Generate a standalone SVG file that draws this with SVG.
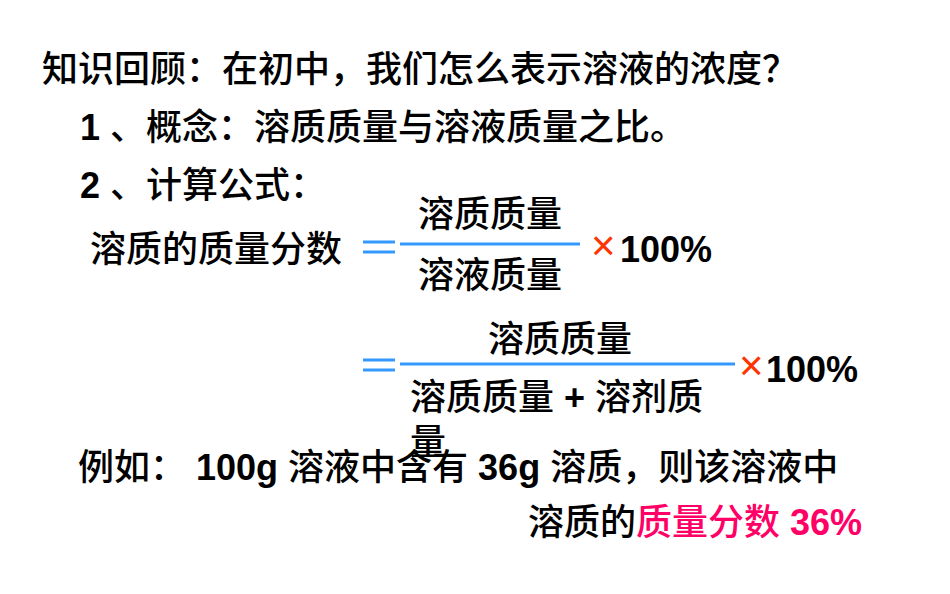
<svg xmlns="http://www.w3.org/2000/svg" width="950" height="594" viewBox="0 0 950 594">
<style>
text{font-family:"Liberation Sans","Noto Sans CJK SC",sans-serif;font-size:36px;fill:#000;font-weight:500}
.b{font-weight:bold}
.blue{fill:none;stroke:#3399ff;stroke-width:3}
.x{fill:#ff3300;font-weight:normal;font-size:42px}
.pk{fill:#ff0066}
</style>
<rect width="950" height="594" fill="#fff"/>
<text x="42" y="82">知识回顾：在初中，我们怎么表示溶液的浓度？</text>
<text x="80" y="140"><tspan class="b">1</tspan> 、概念：溶质质量与溶液质量之比。</text>
<text x="80" y="198"><tspan class="b">2</tspan> 、计算公式：</text>
<g id="formula1">
<text x="90" y="262">溶质的质量分数</text>
<path class="blue" d="M363 242H395M363 252H395M400 244H580"/>
<text x="418" y="227">溶质质量</text>
<text x="418" y="288">溶液质量</text>
<text x="591" y="260" class="x">×</text>
<text x="620" y="262" class="b">100%</text>
</g>
<g id="formula2">
<path class="blue" d="M363 360H395M363 370H395M400 364H735"/>
<text x="488" y="352">溶质质量</text>
<text x="410" y="410">溶质质量 <tspan class="b">+</tspan> 溶剂质</text>
<text x="410" y="455">量</text>
<text x="739" y="380" class="x">×</text>
<text x="766" y="382" class="b">100%</text>
</g>
<text x="78" y="480">例如： <tspan class="b">100g</tspan> 溶液中含有 <tspan class="b">36g</tspan> 溶质，则该溶液中</text>
<text x="528" y="535">溶质的<tspan class="pk">质量分数 </tspan><tspan class="pk b">36%</tspan></text>
</svg>
